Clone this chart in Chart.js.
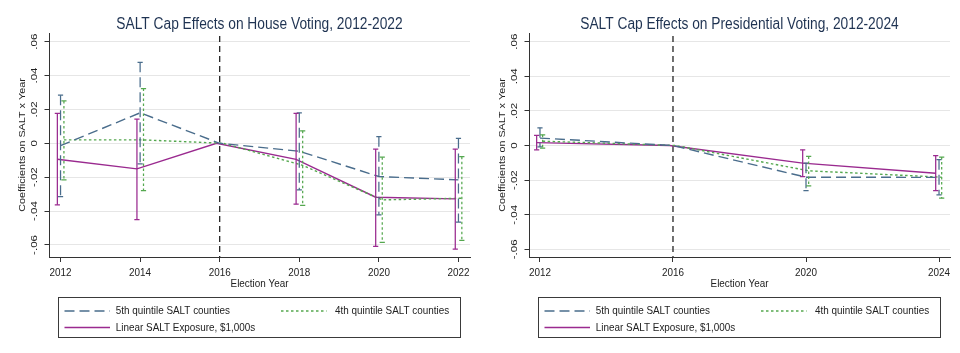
<!DOCTYPE html>
<html>
<head>
<meta charset="utf-8">
<script src="https://cdn.jsdelivr.net/npm/chart.js@4.4.1/dist/chart.umd.min.js"></script>
<style>
  html, body { margin: 0; padding: 0; background: #fff; }
  #wrap { width: 960px; height: 353px; display: flex; }
  canvas { display: block; }
</style>
</head>
<body>
<div id="wrap">
  <canvas id="house" width="480" height="353"></canvas>
  <canvas id="pres" width="480" height="353"></canvas>
</div>
<script>
// House voting, 2012-2022 (2016 = omitted base year)
var houseYears  = [2012, 2014, 2016, 2018, 2020, 2022];
var houseQ5     = [-0.0014, 0.0180, 0, -0.0047, -0.0196, -0.0216];
var houseQ5Lo   = [-0.0314, -0.0122, null, -0.0275, -0.0422, -0.0465];
var houseQ5Hi   = [0.0284, 0.0478, null, 0.0180, 0.0039, 0.0029];
var houseQ4     = [0.0020, 0.0020, 0, -0.0130, -0.0334, -0.0324];
var houseQ4Lo   = [-0.0216, -0.0280, null, -0.0367, -0.0585, -0.0573];
var houseQ4Hi   = [0.0250, 0.0323, null, 0.0074, -0.0082, -0.0079];
var houseLin    = [-0.0094, -0.0151, 0, -0.0095, -0.0318, -0.0328];
var houseLinLo  = [-0.0363, -0.0451, null, -0.0359, -0.0608, -0.0624];
var houseLinHi  = [0.0176, 0.0143, null, 0.0176, -0.0034, -0.0034];

// Presidential voting, 2012-2024
var presYears   = [2012, 2016, 2020, 2024];
var presQ5      = [0.0043, 0, -0.0183, -0.0184];
var presQ5Lo    = [-0.0008, null, -0.0260, -0.0285];
var presQ5Hi    = [0.0102, null, -0.0102, -0.0082];
var presQ4      = [0.0025, 0, -0.0146, -0.0183];
var presQ4Lo    = [-0.0015, null, -0.0233, -0.0304];
var presQ4Hi    = [0.0062, null, -0.0063, -0.0067];
var presLin     = [0.0017, 0, -0.0102, -0.0160];
var presLinLo   = [-0.0025, null, -0.0179, -0.0260];
var presLinHi   = [0.0058, null, -0.0025, -0.0059];

var seriesNames = ['5th quintile SALT counties', '4th quintile SALT counties', 'Linear SALT Exposure, $1,000s'];
var yTicks      = [-0.06, -0.04, -0.02, 0, 0.02, 0.04, 0.06];
var yTickText   = ['-.06', '-.04', '-.02', '0', '.02', '.04', '.06'];
var baseYear    = 2016;

var seriesColors = ['#4a6d8c', '#55a84f', '#9a2a8f'];
var seriesDash   = [[10, 5], [2.5, 2.5], []];
var family = '"Liberation Sans", Arial, sans-serif';

// the source graph is squeezed sideways, so its text is narrow; mimic that
function squeezeText(ctx, k) {
  var fill = ctx.fillText.bind(ctx);
  ctx.fillText = function (text, x, y, maxWidth) {
    var m = ctx.getTransform();
    ctx.save();
    ctx.translate(x, y);
    if (Math.abs(m.b) > 0.5) ctx.scale(1, k); else ctx.scale(k, 1);
    if (maxWidth === undefined) fill(text, 0, 0); else fill(text, 0, 0, maxWidth / k);
    ctx.restore();
  };
}

var ciBars = {
  id: 'ciBars',
  afterDatasetsDraw: function (chart) {
    var ctx = chart.ctx, x = chart.scales.x, y = chart.scales.y;
    chart.data.datasets.forEach(function (ds) {
      ctx.save();
      ctx.strokeStyle = ds.borderColor;
      ctx.lineWidth = 1.25;
      ds.data.forEach(function (p, j) {
        if (ds.lo[j] == null) return;
        var px = x.getPixelForValue(p.x);
        var top = y.getPixelForValue(ds.hi[j]);
        var bot = y.getPixelForValue(ds.lo[j]);
        ctx.setLineDash(ds.borderDash);
        ctx.beginPath(); ctx.moveTo(px, top); ctx.lineTo(px, bot); ctx.stroke();
        ctx.setLineDash([]);
        ctx.beginPath();
        ctx.moveTo(px - 2.6, top); ctx.lineTo(px + 2.6, top);
        ctx.moveTo(px - 2.6, bot); ctx.lineTo(px + 2.6, bot);
        ctx.stroke();
      });
      ctx.restore();
    });
  }
};

var baseLine = {
  id: 'baseLine',
  beforeDatasetsDraw: function (chart) {
    var ctx = chart.ctx, a = chart.chartArea;
    var px = chart.scales.x.getPixelForValue(baseYear);
    ctx.save();
    ctx.strokeStyle = '#111';
    ctx.lineWidth = 1.2;
    ctx.setLineDash([6, 4]);
    ctx.beginPath(); ctx.moveTo(px, a.top + 3); ctx.lineTo(px, a.bottom); ctx.stroke();
    ctx.restore();
  }
};

var panelTitle = {
  id: 'panelTitle',
  afterDraw: function (chart, args, opts) {
    var ctx = chart.ctx, a = chart.chartArea;
    ctx.save();
    ctx.font = '16px ' + family;
    ctx.fillStyle = '#1f3352';
    ctx.textAlign = 'center';
    ctx.textBaseline = 'alphabetic';
    ctx.fillText(opts.text, (a.left + a.right) / 2, 28.5);
    ctx.restore();
  }
};

var keyBox = {
  id: 'keyBox',
  afterDraw: function (chart) {
    var ctx = chart.ctx;
    var slots = [[64.5, 311, 115.8], [281, 311, 335], [64.5, 327.5, 115.8]];
    ctx.save();
    ctx.strokeStyle = '#3a3a3a';
    ctx.lineWidth = 1;
    ctx.strokeRect(58.5, 297.5, 402, 40);
    ctx.font = '11.5px ' + family;
    ctx.fillStyle = '#222';
    ctx.textBaseline = 'middle';
    chart.data.datasets.forEach(function (d, i) {
      var s = slots[i];
      ctx.strokeStyle = d.borderColor;
      ctx.lineWidth = d.borderWidth;
      ctx.setLineDash(d.borderDash);
      ctx.beginPath(); ctx.moveTo(s[0], s[1]); ctx.lineTo(s[0] + 45.5, s[1]); ctx.stroke();
      ctx.fillText(d.label, s[2], s[1]);
    });
    ctx.restore();
  }
};

function panel(id, title, years, sets, shifts, xMin, xMax, yMin, yMax) {
  var ctx = document.getElementById(id).getContext('2d');
  squeezeText(ctx, 0.86);
  return new Chart(ctx, {
    type: 'line',
    data: {
      datasets: sets.map(function (set, i) {
        return {
          label: seriesNames[i],
          data: years.map(function (yr, j) { return { x: yr + shifts[i], y: set[0][j] }; }),
          lo: set[1],
          hi: set[2],
          borderColor: seriesColors[i],
          borderDash: seriesDash[i],
          borderWidth: 1.4,
          pointRadius: 0,
          fill: false,
          tension: 0
        };
      })
    },
    options: {
      responsive: false,
      animation: false,
      devicePixelRatio: 1,
      layout: { padding: { top: 33, right: 10, bottom: 61, left: 0 } },
      plugins: {
        legend: { display: false },
        tooltip: { enabled: false },
        panelTitle: { text: title }
      },
      scales: {
        x: {
          type: 'linear',
          min: xMin,
          max: xMax,
          afterBuildTicks: function (s) { s.ticks = years.map(function (v) { return { value: v }; }); },
          afterFit: function (s) { s.height = 35; },
          grid: { drawOnChartArea: false, tickLength: 5, tickColor: '#333' },
          border: { color: '#333', width: 1 },
          ticks: {
            autoSkip: false, maxRotation: 0, padding: 4, color: '#222',
            font: { size: 11.5, family: family },
            callback: function (v) { return String(v); }
          },
          title: {
            display: true, text: 'Election Year', color: '#222',
            font: { size: 11.5, family: family }, padding: { top: 0, bottom: 1 }
          }
        },
        y: {
          min: yMin,
          max: yMax,
          afterBuildTicks: function (s) { s.ticks = yTicks.map(function (v) { return { value: v }; }); },
          afterFit: function (s) { s.width = 49; },
          grid: { color: '#e6e6e6', tickLength: 4.5, tickColor: '#333' },
          border: { color: '#333', width: 1 },
          ticks: {
            minRotation: 90, maxRotation: 90, crossAlign: 'center', padding: 0, color: '#222',
            font: { size: 11.5, family: family },
            callback: function (v) { return yTickText[yTicks.indexOf(v)]; }
          },
          title: {
            display: true, text: 'Coefficients on SALT x Year', color: '#222',
            font: { size: 10.8, family: family }, padding: { top: 16, bottom: 0 }
          }
        }
      }
    },
    plugins: [baseLine, ciBars, panelTitle, keyBox]
  });
}

panel('house', 'SALT Cap Effects on House Voting, 2012-2022', houseYears,
  [[houseQ5, houseQ5Lo, houseQ5Hi], [houseQ4, houseQ4Lo, houseQ4Hi], [houseLin, houseLinLo, houseLinHi]],
  [0, 0.085, -0.08], 2011.71, 2022.29, -0.0671, 0.0651);

panel('pres', 'SALT Cap Effects on Presidential Voting, 2012-2024', presYears,
  [[presQ5, presQ5Lo, presQ5Hi], [presQ4, presQ4Lo, presQ4Hi], [presLin, presLinLo, presLinHi]],
  [0, 0.08, -0.1], 2011.67, 2024.33, -0.0644, 0.065);
</script>
</body>
</html>
